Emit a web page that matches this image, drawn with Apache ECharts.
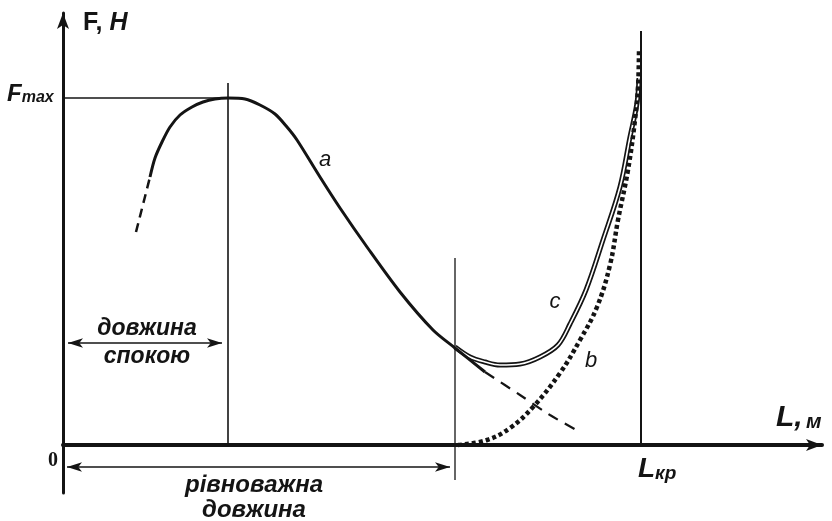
<!DOCTYPE html>
<html>
<head>
    <meta charset="utf-8"/>
    <title></title>
    <script src="https://cdn.jsdelivr.net/npm/echarts@6/dist/echarts.min.js"></script>
    <style>
        html, body { margin: 0; padding: 0; background: #fff; }
        #main { width: 832px; height: 521px; }
    </style>
</head>
<body>
<div id="main"></div>
<script type="text/javascript">
    /* дані: L (x) та F (y), довільні одиниці */
    var curveA = [[87, 268], [92, 287], [99, 303], [107, 318], [117, 330], [129, 338], [140, 343],
        [152, 346], [165, 347], [182, 346], [197, 340], [212, 331], [224, 318], [234, 305],
        [257, 268], [277, 237], [304, 198], [337, 153], [370, 115], [392, 97], [422, 73]];
    var curveAStart = [[73, 213], [87, 268]];
    var curveATail = [[422, 73], [457, 50], [487, 30], [517, 13]];
    var curveC = [[392, 98], [407, 88], [422, 83], [437, 80], [457, 81], [477, 88], [495, 100],
        [507, 121], [523, 155], [540, 205], [557, 258], [567, 308], [574, 342], [576, 367]];
    var curveB = [[395, 0], [424, 5], [447, 17], [470, 38], [497, 72], [517, 105], [534, 138],
        [547, 180], [555, 225], [565, 275], [572, 325], [575, 358], [576, 395]];
    var fmaxLine = [[0, 347], [165, 347]];
    var restLine = [[165, 362], [165, 0]];
    var equilLine = [[392, 187], [392, -35]];
    var critLine = [[578, 414], [578, 0]];
    var restArrow = [[5, 102], [159, 102]];
    var equilArrow = [[4, -22], [387, -22]];

    var black = '#141414';
    var chart = echarts.init(document.getElementById('main'));

    function seg(data, width, extra) {
        var s = {
            type: 'line', data: data, symbol: 'none', silent: true,
            lineStyle: {color: black, width: width}
        };
        for (var k in extra) s[k] = extra[k];
        return s;
    }

    function arrowSeries(pair) {
        return {
            type: 'line', data: [], symbol: 'none', silent: true,
            markLine: {
                silent: true, animation: false,
                symbol: ['arrow', 'arrow'], symbolSize: [7, 15],
                label: {show: false},
                lineStyle: {color: black, width: 1.5, type: 'solid'},
                data: [[{coord: pair[0]}, {coord: pair[1]}]]
            }
        };
    }

    function label(x, y, text, font) {
        return {type: 'text', x: x, y: y, style: {text: text, font: font,
            fill: black, align: 'center', verticalAlign: 'middle'}};
    }

    var option = {
        animation: false,
        grid: {left: 63, right: 10, top: 13, bottom: 28},
        xAxis: {
            type: 'value', min: 0, max: 759,
            axisLine: {show: true, onZero: true, symbol: ['none', 'arrow'], symbolSize: [9, 16],
                lineStyle: {color: black, width: 4}},
            axisTick: {show: false}, axisLabel: {show: false}, splitLine: {show: false}
        },
        yAxis: {
            type: 'value', min: -48, max: 432,
            axisLine: {show: true, onZero: true, symbol: ['none', 'arrow'], symbolSize: [9, 16],
                lineStyle: {color: black, width: 3}},
            axisTick: {show: false}, axisLabel: {show: false}, splitLine: {show: false}
        },
        series: [
            seg(fmaxLine, 1.6),
            seg(restLine, 1.6),
            seg(equilLine, 1.3),
            seg(critLine, 2),
            seg(curveC, 5, {smooth: 0.35}),
            seg(curveC, 1.6, {smooth: 0.35, lineStyle: {color: '#fff', width: 1.6}}),
            seg(curveA, 3, {smooth: 0.3}),
            seg(curveAStart, 2.5, {lineStyle: {color: black, width: 2.5, type: [9, 6]}}),
            seg(curveATail, 2.2, {smooth: 0.3, lineStyle: {color: black, width: 2.2, type: [11, 8]}}),
            seg(curveB, 4.5, {smooth: 0.4, lineStyle: {color: black, width: 4.5, type: [4, 3], cap: 'butt'}}),
            arrowSeries(restArrow),
            arrowSeries(equilArrow)
        ],
        graphic: [
            {type: 'text', left: 83, top: 11, style: {
                text: '{u|F, }{i|Н}',
                rich: {
                    u: {font: 'bold 25px "Liberation Sans"', fill: black},
                    i: {font: 'italic bold 25px "Liberation Sans"', fill: black}
                }
            }},
            {type: 'text', left: 7, top: 82, style: {
                text: '{f|F}{m|max}',
                rich: {
                    f: {font: 'italic bold 24px "Liberation Sans"', fill: black, verticalAlign: 'bottom'},
                    m: {font: 'italic bold 16px "Liberation Sans"', fill: black, verticalAlign: 'bottom'}
                }
            }},
            label(325, 160, 'a', 'italic 22px "Liberation Sans"'),
            label(555, 302, 'c', 'italic 22px "Liberation Sans"'),
            label(591, 361, 'b', 'italic 22px "Liberation Sans"'),
            label(53, 461, '0', 'bold 20px "Liberation Serif"'),
            label(147, 329, 'довжина', 'italic bold 23px "Liberation Sans"'),
            label(147, 357, 'спокою', 'italic bold 23px "Liberation Sans"'),
            label(254, 485, 'рівноважна', 'italic bold 24px "Liberation Sans"'),
            label(254, 510, 'довжина', 'italic bold 24px "Liberation Sans"'),
            {type: 'text', left: 776, top: 403, style: {
                text: '{l|L,} {m|м}',
                rich: {
                    l: {font: 'italic bold 30px "Liberation Sans"', fill: black, verticalAlign: 'bottom'},
                    m: {font: 'italic bold 21px "Liberation Sans"', fill: black, verticalAlign: 'bottom'}
                }
            }},
            {type: 'text', left: 638, top: 455, style: {
                text: '{l|L}{k|кр}',
                rich: {
                    l: {font: 'italic bold 28px "Liberation Sans"', fill: black, verticalAlign: 'bottom'},
                    k: {font: 'italic bold 19px "Liberation Sans"', fill: black, verticalAlign: 'bottom'}
                }
            }}
        ]
    };

    chart.setOption(option);
    window.onresize = chart.resize;
</script>
</body>
</html>
